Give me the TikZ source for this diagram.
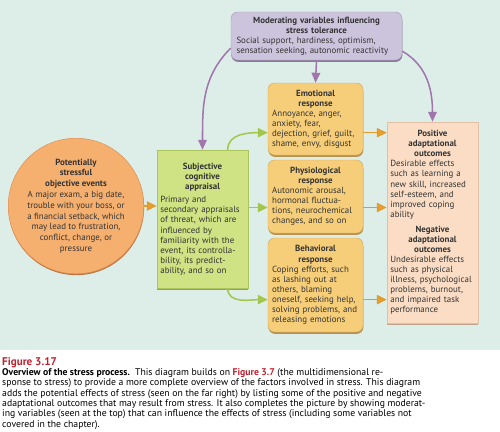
\documentclass[tikz,border=0pt]{standalone}
\usepackage{fontspec}
\setmainfont{PT Sans}
\usepackage{xcolor}
\usetikzlibrary{arrows.meta, shadows}
\definecolor{BgCyan}{RGB}{221,238,233}
\definecolor{ModFill}{RGB}{204,196,220}
\definecolor{ModEdge}{RGB}{170,154,190}
\definecolor{RespFill}{RGB}{246,206,122}
\definecolor{RespEdge}{RGB}{214,170,92}
\definecolor{ApprFill}{RGB}{207,226,132}
\definecolor{ApprEdge}{RGB}{172,196,92}
\definecolor{EventFill}{RGB}{245,176,112}
\definecolor{EventEdge}{RGB}{222,140,80}
\definecolor{OutFill}{RGB}{250,221,196}
\definecolor{OutEdge}{RGB}{226,192,166}
\definecolor{ArrPurple}{RGB}{160,118,172}
\definecolor{ArrGreen}{RGB}{164,198,78}
\definecolor{ArrOrange}{RGB}{232,160,40}
\definecolor{CapRed}{RGB}{190,32,46}
\newcommand{\hd}[1]{{\centering\bfseries #1\par}}

\begin{document}
\begin{tikzpicture}[
  x=0.3mm, y=-0.3mm,
  every node/.style={font=\fontsize{7.6}{8.6}\selectfont, text=black!80, inner sep=1.25mm},
  modbox/.style={draw=ModEdge, fill=ModFill, rounded corners=2mm, text width=48mm,
    minimum width=51.3mm, minimum height=14.4mm, align=left,
    drop shadow={shadow xshift=0.3pt, shadow yshift=-1.6pt, fill=ModEdge!80!black, opacity=1}},
  resp/.style={draw=RespEdge, fill=RespFill, rounded corners=2mm, text width=26mm,
    minimum width=28.5mm, align=left,
    drop shadow={shadow xshift=0.3pt, shadow yshift=-1.6pt, fill=RespEdge!85!black, opacity=1}},
  apbox/.style={draw=ApprEdge, fill=ApprFill, text width=25.3mm, minimum width=27.3mm,
    minimum height=41.4mm, align=left, inner sep=1mm,
    drop shadow={shadow xshift=0.3pt, shadow yshift=-1.6pt, fill=ApprEdge!85!black, opacity=1}},
  evt/.style={circle, draw=EventEdge, fill=EventFill, minimum size=34.5mm, inner sep=0pt,
    align=center, font=\fontsize{7.6}{9.2}\selectfont,
    drop shadow={shadow xshift=0.3pt, shadow yshift=-1.2pt, fill=EventEdge!85!black, opacity=1}},
  outbox/.style={draw=OutEdge, fill=OutFill, text width=25.3mm, minimum width=27.3mm,
    minimum height=60.3mm, align=left, inner sep=1mm,
    drop shadow={shadow xshift=0.3pt, shadow yshift=-1.6pt, fill=OutEdge!85!black, opacity=1}},
  purp/.style={draw=ArrPurple, line width=1.3pt, -{Triangle[length=3mm, width=2.6mm]}},
  grn/.style={draw=ArrGreen, line width=1.3pt, -{Triangle[length=3mm, width=2.8mm]}},
  orng/.style={draw=ArrOrange!85!brown, line width=1.3pt, -{Triangle[length=3mm, width=2.8mm, fill=ArrOrange]}},
  figcap/.style={anchor=north west, align=left, inner sep=0pt, text=black,
    font=\fontsize{8.3}{8.8}\selectfont},
]
\useasboundingbox (0,0) rectangle (500,431);
\fill[BgCyan] (0,0) rectangle (500,350);

%% ---- boxes ----
\node[modbox] (moder) at (316.5,36) {\hd{Moderating variables influencing\\ stress tolerance}
  Social support, hardiness, optimism,\\ sensation seeking, autonomic reactivity};

\node[resp, minimum height=21.6mm] (emot) at (315.5,119) {\hd{Emotional\\ response}
  Annoyance, anger,\\ anxiety, fear,\\ dejection, grief, guilt,\\ shame, envy, disgust};
\node[resp, minimum height=21.9mm] (phys) at (315.5,196.5) {\hd{Physiological\\ response}
  Autonomic arousal,\\ hormonal fluctua-\\ tions, neurochemical\\ changes, and so on};
\node[resp, minimum height=28.2mm] (behav) at (315.5,285) {\hd{Behavioral\\ response}
  Coping efforts, such\\ as lashing out at\\ others, blaming\\ oneself, seeking help,\\
  solving problems, and\\ releasing emotions};

\node[apbox] (appr) at (202.5,219) {\hd{Subjective\\ cognitive\\ appraisal}\vspace{1mm}
  Primary and\\ secondary appraisals\\ of threat, which are\\ influenced by\\
  familiarity with the\\ event, its controlla-\\ bility, its predict-\\ ability, and so on};

\node[evt] (events) at (76,206) {\textbf{Potentially}\\ \textbf{stressful}\\ \textbf{objective events}\\
  A major exam, a big date,\\ trouble with your boss, or\\ a financial setback, which\\
  may lead to frustration,\\ conflict, change, or\\ pressure};

\node[outbox] (outc) at (432.5,222.5) {\hd{Positive\\ adaptational\\ outcomes}
  Desirable effects\\ such as learning a\\ new skill, increased\\ self-esteem, and\\
  improved coping\\ ability\par\vspace{1.5mm}
  \hd{Negative\\ adaptational\\ outcomes}
  Undesirable effects\\ such as physical\\ illness, psychological\\ problems, burnout,\\
  and impaired task\\ performance};

%% ---- connectors ----
\draw[purp] (moder.188) to[out=225, in=90] (appr.north);
\draw[purp] (moder.south) -- (emot.north);
\draw[purp] (moder.350) to[out=-30, in=90] (outc.north);

\draw[orng] (events.east) -- (events.east -| appr.west);

\draw[grn] (appr.70) to[out=90, in=180] (emot.196);
\draw[grn] (appr.east |- phys.193) -- (phys.193);
\draw[grn] (appr.290) to[out=-90, in=180] (behav.197);

\draw[orng] (emot.344) -- (emot.344 -| outc.west);
\draw[orng] (phys.347) -- (phys.347 -| outc.west);
\draw[orng] (behav.343) -- (behav.343 -| outc.west);

%% ---- caption ----
\node[figcap] (caption) at (2,357) {{\fontsize{9.5}{10}\selectfont\textcolor{CapRed}{\bfseries Figure 3.17}}\\
  \textbf{Overview of the stress process.}\ \ This diagram builds on
  \textcolor{CapRed}{\bfseries Figure 3.7} (the multidimensional re-\\
  sponse to stress) to provide a more complete overview of the factors involved in stress. This diagram\\
  adds the potential effects of stress (seen on the far right) by listing some of the positive and negative\\
  adaptational outcomes that may result from stress. It also completes the picture by showing moderat-\\
  ing variables (seen at the top) that can influence the effects of stress (including some variables not\\
  covered in the chapter).};
\end{tikzpicture}
\end{document}
